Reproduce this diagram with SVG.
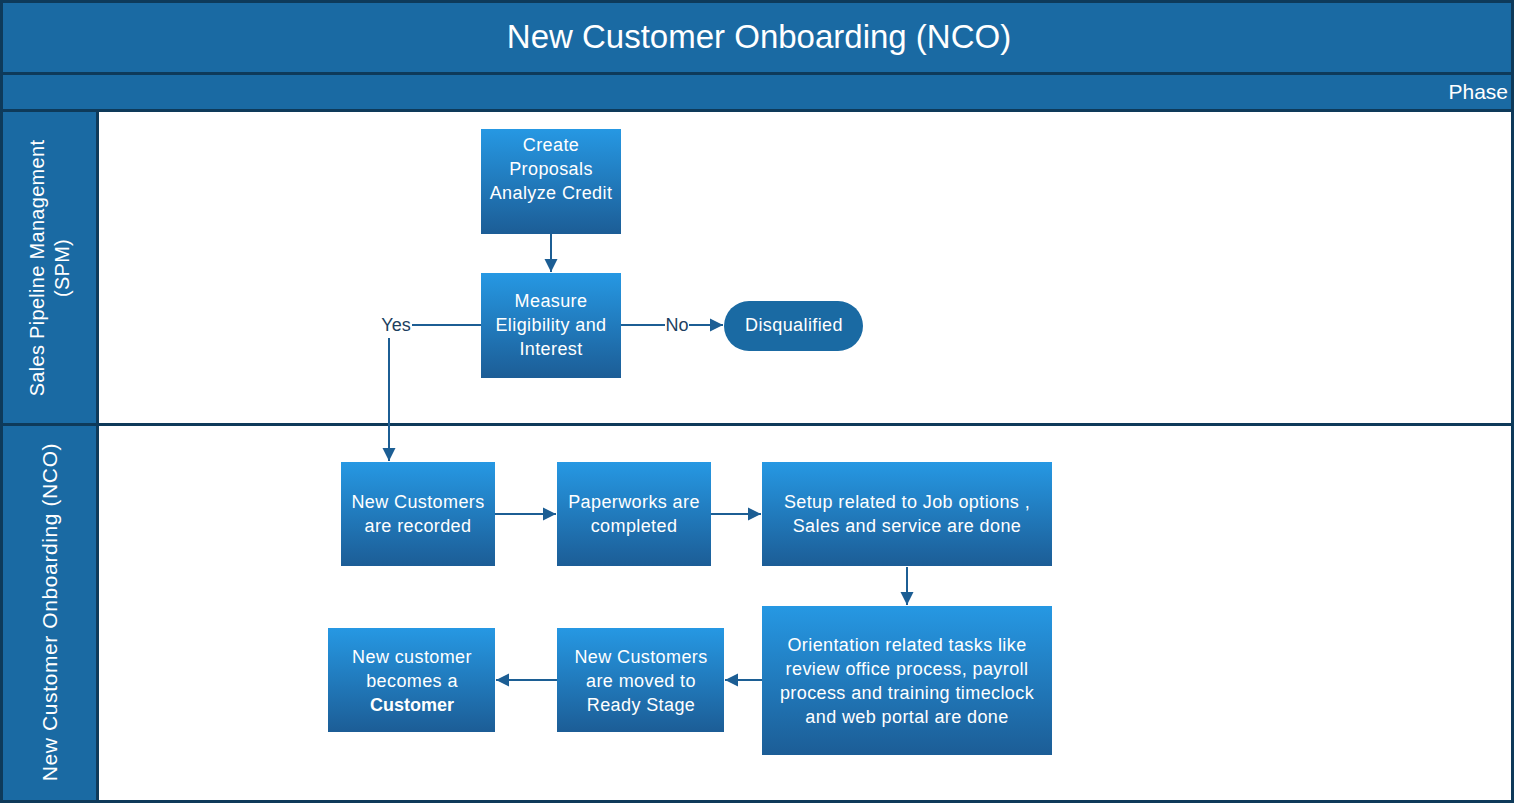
<svg xmlns="http://www.w3.org/2000/svg" width="1522" height="804" viewBox="0 0 1522 804">
<style>
.band{fill:#1a6aa3;stroke:#0e3a5a;stroke-width:3}
.lane{fill:#ffffff;stroke:#0e3a5a;stroke-width:3}
.node{fill:url(#g);stroke:none}
.t{font-family:"Liberation Sans",Arial,sans-serif;fill:#ffffff;font-size:18px;letter-spacing:0.4px;text-anchor:middle}
.lbl{font-family:"Liberation Sans",Arial,sans-serif;fill:#1c3f60;font-size:18px;text-anchor:middle}
.c{stroke:#1c5e94;stroke-width:2;fill:none}
</style>
<defs>
<linearGradient id="g" x1="0" y1="0" x2="0" y2="1">
<stop offset="0" stop-color="#2698e3"/>
<stop offset="1" stop-color="#1c5d96"/>
</linearGradient>
<marker id="a" markerWidth="14" markerHeight="14" refX="13" refY="7" orient="auto" markerUnits="userSpaceOnUse">
<path d="M0,0.5 L13,7 L0,13.5 Z" fill="#1c5e94"/>
</marker>
</defs>
<g id="frame">
<rect class="band" x="1.5" y="1.5" width="1511" height="72"/>
<rect class="band" x="1.5" y="73.5" width="1511" height="37"/>
<rect class="band" x="1.5" y="110.5" width="96" height="314"/>
<rect class="lane" x="97.5" y="110.5" width="1415" height="314"/>
<rect class="band" x="1.5" y="424.5" width="96" height="377"/>
<rect class="lane" x="97.5" y="424.5" width="1415" height="377"/>
<text x="759" y="48" font-family="'Liberation Sans',Arial,sans-serif" font-size="33" fill="#ffffff" text-anchor="middle">New Customer Onboarding (NCO)</text>
<text x="1508" y="99" font-family="'Liberation Sans',Arial,sans-serif" font-size="21" fill="#ffffff" text-anchor="end">Phase</text>
<text transform="translate(44,268) rotate(-90)" class="t" style="font-size:20px;letter-spacing:0.3px">Sales Pipeline Management</text>
<text transform="translate(69,268) rotate(-90)" class="t" style="font-size:20px;letter-spacing:0.3px">(SPM)</text>
<text transform="translate(57,612) rotate(-90)" class="t" style="font-size:21px;letter-spacing:0.6px">New Customer Onboarding (NCO)</text>
</g>
<g id="connectors">
<line class="c" x1="551" y1="234" x2="551" y2="272" marker-end="url(#a)"/>
<line class="c" x1="481" y1="325" x2="412" y2="325"/>
<line class="c" x1="389" y1="338" x2="389" y2="461" marker-end="url(#a)"/>
<line class="c" x1="621" y1="325" x2="665" y2="325"/>
<line class="c" x1="689" y1="325" x2="723" y2="325" marker-end="url(#a)"/>
<line class="c" x1="495" y1="514" x2="556" y2="514" marker-end="url(#a)"/>
<line class="c" x1="711" y1="514" x2="761" y2="514" marker-end="url(#a)"/>
<line class="c" x1="907" y1="567" x2="907" y2="605" marker-end="url(#a)"/>
<line class="c" x1="762" y1="680" x2="725" y2="680" marker-end="url(#a)"/>
<line class="c" x1="557" y1="680" x2="496" y2="680" marker-end="url(#a)"/>
<text class="lbl" x="396" y="331">Yes</text>
<text class="lbl" x="677" y="331">No</text>
</g>
<g id="n1">
<rect class="node" x="481" y="129" width="140" height="105"/>
<text class="t" x="551" y="151">Create</text>
<text class="t" x="551" y="175">Proposals</text>
<text class="t" x="551" y="199">Analyze Credit</text>
</g>
<g id="n2">
<rect class="node" x="481" y="273" width="140" height="105"/>
<text class="t" x="551" y="307">Measure</text>
<text class="t" x="551" y="331">Eligibility and</text>
<text class="t" x="551" y="355">Interest</text>
</g>
<g id="n3">
<rect x="724" y="301" width="139" height="50" rx="25" fill="#1a6aa3"/>
<text class="t" x="794" y="331">Disqualified</text>
</g>
<g id="n4">
<rect class="node" x="341" y="462" width="154" height="104"/>
<text class="t" x="418" y="508">New Customers</text>
<text class="t" x="418" y="532">are recorded</text>
</g>
<g id="n5">
<rect class="node" x="557" y="462" width="154" height="104"/>
<text class="t" x="634" y="508">Paperworks are</text>
<text class="t" x="634" y="532">completed</text>
</g>
<g id="n6">
<rect class="node" x="762" y="462" width="290" height="104"/>
<text class="t" x="907" y="508">Setup related to Job options ,</text>
<text class="t" x="907" y="532">Sales and service are done</text>
</g>
<g id="n7">
<rect class="node" x="762" y="606" width="290" height="149"/>
<text class="t" x="907" y="651">Orientation related tasks like</text>
<text class="t" x="907" y="675">review office process, payroll</text>
<text class="t" x="907" y="699">process and training timeclock</text>
<text class="t" x="907" y="723">and web portal are done</text>
</g>
<g id="n8">
<rect class="node" x="557" y="628" width="167" height="104"/>
<text class="t" x="641" y="663">New Customers</text>
<text class="t" x="641" y="687">are moved to</text>
<text class="t" x="641" y="711">Ready Stage</text>
</g>
<g id="n9">
<rect class="node" x="328" y="628" width="167" height="104"/>
<text class="t" x="412" y="663">New customer</text>
<text class="t" x="412" y="687">becomes a</text>
<text class="t" x="412" y="711" font-weight="bold" style="letter-spacing:0">Customer</text>
</g>
</svg>
